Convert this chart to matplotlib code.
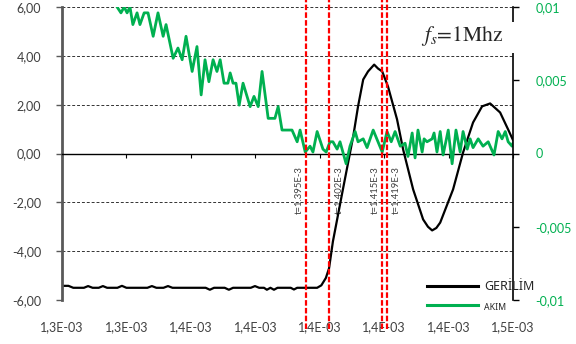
import matplotlib
matplotlib.use("Agg")
import matplotlib.pyplot as plt
from matplotlib.patches import Rectangle

plt.rcParams['font.family'] = ['Lato', 'DejaVu Sans']
plt.rcParams['mathtext.fontset'] = 'stix'

# time in microseconds
t_v_us = [1320.0, 1322.0, 1323.5, 1326.8, 1328.1, 1329.5, 1331.4, 1332.7, 1334.0, 1337.2,
          1338.6, 1340.0, 1346.5, 1347.9, 1349.3, 1351.5, 1352.9, 1354.3, 1364.6, 1365.9,
          1367.2, 1370.5, 1371.8, 1373.1, 1378.6, 1379.9, 1381.2, 1382.7, 1383.6, 1384.7,
          1385.8, 1386.9, 1391.0, 1392.0, 1393.0, 1399.2, 1400.5, 1401.9, 1402.9, 1404.1,
          1407.2, 1410.4, 1411.9, 1413.5, 1415.0, 1416.9, 1418.1, 1419.4, 1421.2, 1424.0,
          1425.9, 1429.0, 1432.1, 1433.6, 1434.9, 1436.2, 1437.4, 1441.4, 1444.5, 1447.6,
          1450.4, 1452.9, 1456.0, 1458.5, 1460.0]
gerilim = [-5.42, -5.42, -5.50, -5.50, -5.43, -5.50, -5.50, -5.43, -5.50, -5.50,
           -5.42, -5.50, -5.50, -5.43, -5.50, -5.50, -5.43, -5.50, -5.50, -5.58,
           -5.50, -5.50, -5.58, -5.50, -5.50, -5.43, -5.50, -5.50, -5.58, -5.50,
           -5.58, -5.50, -5.50, -5.57, -5.50, -5.50, -5.40, -5.10, -4.70, -3.60,
           -1.47, 0.70, 1.93, 3.03, 3.36, 3.64, 3.48, 3.36, 2.74, 1.40,
           0.16, -1.47, -2.70, -3.00, -3.15, -3.05, -2.83, -1.47, 0.04, 1.27,
           1.93, 2.05, 1.68, 0.98, 0.55]

t_i_us = [1336.5, 1337.1, 1338.3, 1339.3, 1340.2, 1341.1, 1342.0, 1343.3, 1344.2, 1345.5,
          1346.7, 1348.3, 1349.8, 1351.4, 1352.3, 1354.5, 1356.0, 1357.3, 1358.5, 1360.4,
          1361.9, 1363.2, 1364.4, 1365.6, 1366.9, 1368.1, 1369.1, 1370.3, 1371.5, 1372.2,
          1373.1, 1374.0, 1375.0, 1376.2, 1378.4, 1379.6, 1380.9, 1382.1, 1384.0, 1386.1,
          1387.1, 1388.3, 1391.4, 1393.0, 1393.9, 1395.5, 1397.0, 1397.9, 1399.2, 1401.0,
          1402.0, 1403.2, 1404.1, 1405.4, 1406.3, 1408.2, 1409.4, 1411.0, 1411.9, 1413.5,
          1414.7, 1416.6, 1419.4, 1420.9, 1422.2, 1423.4, 1425.0, 1426.5, 1427.4, 1428.7,
          1429.6, 1430.5, 1431.8, 1432.4, 1433.3, 1434.9, 1435.5, 1436.4, 1437.4, 1438.3,
          1439.9, 1441.1, 1442.3, 1443.6, 1444.5, 1445.8, 1446.7, 1447.6, 1449.2, 1450.7,
          1452.3, 1454.1, 1455.4, 1456.6, 1457.6, 1458.5, 1459.7, 1460.0]
akim = [0.0106, 0.0100, 0.0096, 0.0100, 0.0096, 0.0100, 0.0088, 0.0096, 0.0088, 0.0096,
        0.0096, 0.0080, 0.0096, 0.0080, 0.0088, 0.0065, 0.0072, 0.0064, 0.0080, 0.0056,
        0.0073, 0.0040, 0.0064, 0.0049, 0.0064, 0.0056, 0.0064, 0.0048, 0.0048, 0.0055,
        0.0048, 0.0048, 0.0033, 0.0048, 0.0032, 0.0039, 0.0032, 0.0056, 0.0024, 0.0024,
        0.0032, 0.0016, 0.0016, 0.0008, 0.0016, 0.0001, 0.0005, 0.0001, 0.0015, 0.0003,
        0.0001, 0.0008, 0.0008, 0.0003, 0.0008, -0.0007, 0.0005, 0.0015, 0.0008, 0.0010,
        0.0004, 0.0016, 0.0001, 0.0015, 0.0008, 0.0015, 0.0005, 0.0007, -0.0002, 0.0014,
        -0.0003, 0.0016, 0.0001, 0.0010, 0.0008, 0.0010, 0.0014, 0.0001, 0.0015, -0.0001,
        0.0016, -0.0007, 0.0016, 0.0001, 0.0015, 0.0003, 0.0010, 0.0004, 0.0010, 0.0005,
        0.0008, -0.0001, 0.0015, 0.0010, 0.0015, 0.0008, 0.0005, 0.0007]

marker_t_us = [1395.8, 1402.9, 1419.4, 1420.9]
marker_labels = ['t=1.395E-3', 't=1.402E-3', 't=1.415E-3', 't=1.419E-3']
marker_side = [-1, 1, -1, 1]

x_ticks = [1320, 1340, 1360, 1380, 1400, 1420, 1440, 1460]
x_ticklabels = ['1,3E-03', '1,3E-03', '1,4E-03', '1,4E-03', '1,4E-03', '1,4E-03', '1,4E-03', '1,5E-03']
v_ticks = [6, 4, 2, 0, -2, -4, -6]
v_ticklabels = ['6,00', '4,00', '2,00', '0,00', '-2,00', '-4,00', '-6,00']
i_ticks = [0.01, 0.005, 0, -0.005, -0.01]
i_ticklabels = ['0,01', '0,005', '0', '-0,005', '-0,01']

green = '#00B050'
grey = '#404040'

fig = plt.figure(figsize=(5.76, 3.44), dpi=100)
ax = fig.add_axes([62 / 576, 44 / 344, 451 / 576, 293 / 344])
ax.set_xlim(1320, 1460)
ax.set_ylim(-6, 6)
ax2 = ax.twinx()
ax2.set_ylim(-0.01, 0.01)

ax.grid(axis='y', color='#333333', lw=0.7, ls=(0, (3, 2)))
ax.set_axisbelow(True)

ln_v, = ax.plot(t_v_us, gerilim, color='black', lw=1.6, zorder=2,
                solid_joinstyle='round')
ln_i, = ax2.plot(t_i_us, akim, color=green, lw=2.0, zorder=2,
                 solid_joinstyle='round')

for t, lbl, side in zip(marker_t_us, marker_labels, marker_side):
    ax2.axvline(t, ymin=-0.1, ymax=1.03, color='#FF0000', lw=1.6,
                ls=(0, (2.5, 1)), clip_on=False, zorder=4)
    ax.annotate(lbl, xy=(t, -1.5), xytext=(5 * side if side < 0 else 7, 0),
                textcoords='offset points', rotation=90, ha='center', va='center',
                fontsize=6.8, color=grey, zorder=1)

# spines and ticks
for s in ['top', 'right']:
    ax.spines[s].set_visible(False)
for s in ['top', 'left', 'bottom']:
    ax2.spines[s].set_visible(False)
ax.spines['left'].set_color('#595959')
ax.spines['left'].set_linewidth(2)
ax.spines['bottom'].set_position(('data', 0))
ax.spines['bottom'].set_color('black')
ax.spines['bottom'].set_linewidth(1)
ax2.spines['right'].set_color('black')
ax2.spines['right'].set_linewidth(1.2)

ax.set_xticks(x_ticks)
ax.tick_params(axis='x', direction='out', length=3, color='black', labelbottom=False)
ax.set_yticks(v_ticks, labels=v_ticklabels)
ax.tick_params(axis='y', length=4, width=1, color='#595959', labelcolor=grey,
               labelsize=9, pad=11)
ax2.set_yticks(i_ticks, labels=i_ticklabels)
ax2.tick_params(axis='y', length=4, width=1, color='black', labelcolor=green,
                labelsize=9, pad=12)

sec = ax.secondary_xaxis('bottom')
sec.set_xticks(x_ticks, labels=x_ticklabels)
sec.tick_params(length=0, pad=15, labelcolor=grey, labelsize=9)
sec.spines['bottom'].set_visible(False)

# sampling frequency label on a white patch
ax2.add_patch(Rectangle((0.772, 0.843), 0.245, 0.106, transform=ax2.transAxes,
                        facecolor='white', edgecolor='none', clip_on=False, zorder=5))
ax2.text(0.887, 0.9, r'$f_s$=1Mhz', transform=ax2.transAxes, ha='center', va='center',
         fontsize=15.5, family='STIXGeneral', color='#262626', zorder=6)

leg = ax2.legend([ln_v, ln_i], ['GERİLİM', 'AKIM'], loc='center left',
                 bbox_to_anchor=(427 / 576, 1 - 296 / 344), bbox_transform=fig.transFigure,
                 frameon=False, handlelength=4.1, handletextpad=0.5,
                 labelspacing=0.6, borderpad=0, borderaxespad=0,
                 prop={'family': 'Noto Sans', 'size': 9})
leg.get_texts()[0].set_color('#262626')
leg.get_texts()[1].set_fontsize(6.3)
leg.get_texts()[1].set_color('#262626')
for h in leg.legend_handles:
    h.set_linewidth(2.2)

fig.savefig('out.png', dpi=100)
